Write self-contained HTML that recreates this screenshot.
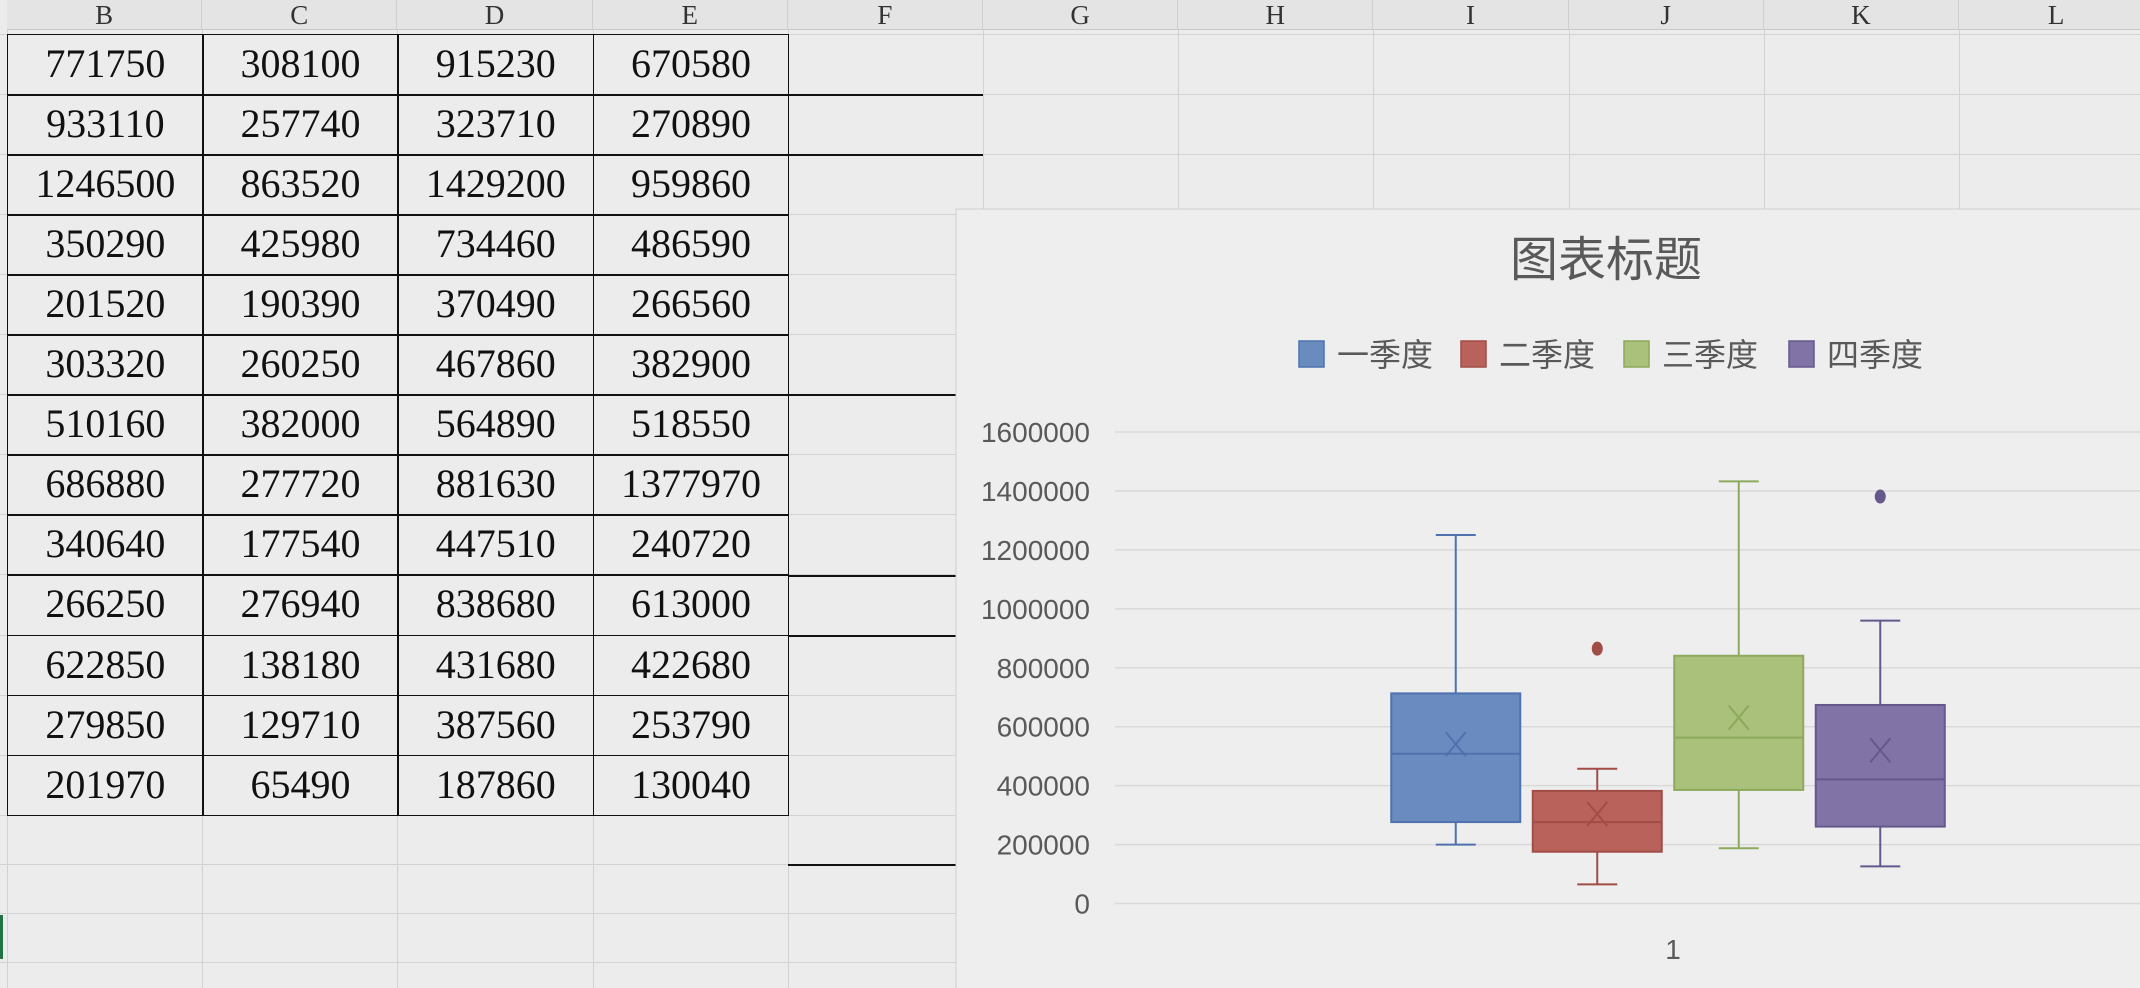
<!DOCTYPE html>
<html><head><meta charset="utf-8">
<style>
body{margin:0;width:2140px;height:988px;overflow:hidden;background:#ececec;font-family:"Liberation Serif","Noto Serif CJK SC",serif;position:relative}
.hdr{position:absolute;top:0;height:30px;background:#e4e4e4;border-right:1px solid #cfcfcf;border-bottom:1px solid #c8c8c8;box-sizing:border-box;text-align:center;font-size:27px;line-height:30px;color:#333}
.vg{position:absolute;width:1px;background:#d2d2d2}
.hg{position:absolute;height:1px;background:#d2d2d2}
.cell{position:absolute;box-sizing:border-box;border:1.5px solid #111;text-align:center;font-size:40px;line-height:58px;color:#111}
.bl{position:absolute;height:2px;background:#111}
</style></head><body>
<div id="sheet"></div>
<svg id="chart" width="2140" height="988" style="position:absolute;left:0;top:0" xmlns="http://www.w3.org/2000/svg"></svg>
<script>
const colLetters=["B","C","D","E","F","G","H","I","J","K","L"];
const colB=[771750,933110,1246500,350290,201520,303320,510160,686880,340640,266250,622850,279850,201970];
const colC=[308100,257740,863520,425980,190390,260250,382000,277720,177540,276940,138180,129710,65490];
const colD=[915230,323710,1429200,734460,370490,467860,564890,881630,447510,838680,431680,387560,187860];
const colE=[670580,270890,959860,486590,266560,382900,518550,1377970,240720,613000,422680,253790,130040];
const sheet=document.getElementById('sheet');
const X0=7,CW=195.2,R0=34,RH=60.05;
colLetters.forEach((l,i)=>{
  const h=document.createElement('div');h.className='hdr';
  h.style.left=(X0+i*CW)+'px';h.style.width=CW+'px';h.textContent=l;
  
  
  sheet.appendChild(h);
});
for(let i=0;i<=11;i++){const v=document.createElement('div');v.className='vg';v.style.left=(X0+i*CW)+'px';v.style.top='30px';v.style.height='958px';sheet.appendChild(v);}
const rowYs=[];for(let k=0;k<=13;k++)rowYs.push(R0+k*RH);rowYs.push(864,913,962);
rowYs.forEach(y=>{const h=document.createElement('div');h.className='hg';h.style.left='0px';h.style.width='2140px';h.style.top=y+'px';sheet.appendChild(h);});
const cols=[colB,colC,colD,colE];
cols.forEach((c,ci)=>c.forEach((v,ri)=>{
  const d=document.createElement('div');d.className='cell';
  d.style.left=(X0+ci*CW)+'px';d.style.top=(R0+ri*RH)+'px';d.style.width=(CW+1.5)+'px';d.style.height=(RH+1.5)+'px';
  d.textContent=v;
  
  
  sheet.appendChild(d);
}));
[[94,983],[154,983],[394,983],[575,983],[635,983],[864,956]].forEach(([y,r])=>{const b=document.createElement('div');b.className='bl';b.style.left=(X0+4*CW)+'px';b.style.width=(r-X0-4*CW)+'px';b.style.top=y+'px';sheet.appendChild(b);});
const sel=document.createElement('div');sel.style.cssText='position:absolute;left:0;top:915px;width:3px;height:44px;background:#217346';sheet.appendChild(sel);

// chart data
const seriesNames=["一季度","二季度","三季度","四季度"];
const mins=[199600,64800,187600,126000];
const q1s=[276300,175700,385400,261000];
const medians=[508300,276300,562700,421300];
const q3s=[713000,382100,840700,673700];
const maxs=[1250300,457200,1432600,960000];
const means=[540700,303600,631000,520000];
const outliers=[[],[864800],[],[1381000]];
const yTicks=[0,200000,400000,600000,800000,1000000,1200000,1400000,1600000];
const fills=["#6a8bc0","#b9625c","#aac17c","#8273a7"];
const strokes=["#4e72ad","#a14c46","#8ca95c","#65588d"];

const svg=document.getElementById('chart');const NS='http://www.w3.org/2000/svg';
function el(t,a){const e=document.createElementNS(NS,t);for(const k in a)e.setAttribute(k,a[k]);svg.appendChild(e);return e;}
const Y0=903.5,YH=471.5,YMAX=1600000;
const yS=v=>Y0-v/YMAX*YH;
const xC=i=>1668+(i-1.5)*141.5;
const BW=129,CAP=20;
const bg=el('rect',{x:956,y:209,width:1200,height:790,fill:'#eeeeee',stroke:'#d0d0d0','stroke-width':1});


const tt=el('text',{x:1606,y:276,'text-anchor':'middle','font-size':48,fill:'#595959','font-family':'"Liberation Sans","Noto Sans CJK SC",sans-serif'});tt.textContent='图表标题';


yTicks.forEach(t=>{
  const g=el('line',{x1:1115,x2:2140,y1:yS(t),y2:yS(t),stroke:'#d9d9d9','stroke-width':1.5});
  
  
  const l=el('text',{x:1090,y:yS(t)+10,'text-anchor':'end','font-size':28,fill:'#595959','font-family':'"Liberation Sans",sans-serif'});l.textContent=t;
  
  
});
const xl=el('text',{x:1673,y:959,'text-anchor':'middle','font-size':28,fill:'#595959','font-family':'"Liberation Sans",sans-serif'});xl.textContent='1';


const legX=[1299,1461,1624,1789];
seriesNames.forEach((n,i)=>{
  const s=el('rect',{x:legX[i],y:341,width:25,height:26,fill:fills[i],stroke:strokes[i],'stroke-width':1.5});
  
  
  const t=el('text',{x:legX[i]+38,y:366,'font-size':32,fill:'#595959','font-family':'"Liberation Sans","Noto Sans CJK SC",sans-serif'});t.textContent=n;
  
  
});
seriesNames.forEach((n,i)=>{
  const c=xC(i),st=strokes[i];
  const w1=el('line',{x1:c,x2:c,y1:yS(maxs[i]),y2:yS(q3s[i]),stroke:st,'stroke-width':2});
  
  
  const w2=el('line',{x1:c,x2:c,y1:yS(q1s[i]),y2:yS(mins[i]),stroke:st,'stroke-width':2});
  
  
  [maxs[i],mins[i]].forEach(v=>{const cp=el('line',{x1:c-CAP,x2:c+CAP,y1:yS(v),y2:yS(v),stroke:st,'stroke-width':2});
    
    });
  const b=el('rect',{x:c-BW/2,y:yS(q3s[i]),width:BW,height:yS(q1s[i])-yS(q3s[i]),fill:fills[i],stroke:st,'stroke-width':2});
  
  
  const m=el('line',{x1:c-BW/2,x2:c+BW/2,y1:yS(medians[i]),y2:yS(medians[i]),stroke:st,'stroke-width':2});
  
  
  const my=yS(means[i]);
  const mk=el('path',{d:`M${c-10},${my-12}L${c+10},${my+12}M${c+10},${my-12}L${c-10},${my+12}`,stroke:st,'stroke-width':2,fill:'none'});
  
  
  outliers[i].forEach(v=>{const o=el('ellipse',{cx:c,cy:yS(v),rx:5.5,ry:7,fill:st});
    
    });
});
</script>
</body></html>
